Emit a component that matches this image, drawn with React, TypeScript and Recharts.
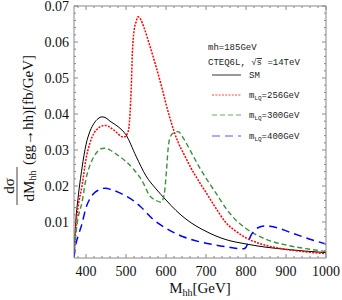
import React from 'react';
import { LineChart, Line, XAxis, YAxis } from 'recharts';

// ---- data (M_hh in GeV, dσ/dM in fb/GeV) ----
const smM = [370, 375, 380, 390, 400, 410, 420, 430, 440, 450, 460, 480, 500, 525, 550, 575, 600, 625, 650, 675, 700, 725, 750, 800, 850, 900, 950, 1000];
const smV = [0.0008, 0.011, 0.0165, 0.025, 0.0315, 0.0352, 0.0374, 0.0387, 0.0392, 0.0389, 0.038, 0.0365, 0.0342, 0.0283, 0.0228, 0.0192, 0.0161, 0.0132, 0.0108, 0.0089, 0.0074, 0.0061, 0.0051, 0.0039, 0.003, 0.0024, 0.0019, 0.0015];

const lq256M = [370, 375, 380, 390, 400, 410, 420, 430, 440, 450, 460, 470, 480, 490, 498, 503, 507, 510, 513, 516, 520, 525, 530, 537, 545, 560, 575, 590, 600, 610, 620, 630, 645, 660, 685, 700, 725, 750, 775, 800, 850, 900, 950, 1000];
const lq256V = [0.0006, 0.009, 0.014, 0.02, 0.0275, 0.032, 0.0347, 0.036, 0.0367, 0.0368, 0.0363, 0.0355, 0.0345, 0.0337, 0.0337, 0.0345, 0.036, 0.04, 0.047, 0.057, 0.063, 0.0655, 0.067, 0.0662, 0.064, 0.0588, 0.0532, 0.0472, 0.0428, 0.0388, 0.0352, 0.0322, 0.0288, 0.0255, 0.0208, 0.0182, 0.0138, 0.0098, 0.0074, 0.0056, 0.0035, 0.0024, 0.0017, 0.0012];

const lq300M = [370, 375, 380, 390, 400, 410, 420, 430, 440, 450, 460, 480, 500, 520, 540, 560, 575, 588, 593, 597, 601, 605, 610, 620, 630, 645, 660, 685, 700, 725, 750, 775, 800, 850, 900, 950, 1000];
const lq300V = [0.0005, 0.007, 0.011, 0.0155, 0.022, 0.0258, 0.0282, 0.0297, 0.0304, 0.0305, 0.03, 0.0285, 0.0268, 0.0245, 0.0215, 0.0172, 0.016, 0.0155, 0.0165, 0.0189, 0.024, 0.03, 0.0335, 0.0348, 0.0351, 0.033, 0.03, 0.0249, 0.0222, 0.018, 0.0138, 0.0105, 0.0082, 0.0052, 0.0036, 0.0026, 0.0018];

const lq400M = [370, 375, 380, 390, 400, 410, 420, 430, 440, 450, 460, 480, 500, 520, 536, 569, 601, 643, 684, 725, 758, 783, 795, 800, 805, 812, 820, 830, 845, 860, 884, 916, 958, 1000];
const lq400V = [0.0002, 0.004, 0.006, 0.0095, 0.014, 0.0165, 0.018, 0.0188, 0.0193, 0.0194, 0.0191, 0.0183, 0.0172, 0.0158, 0.0143, 0.0106, 0.0082, 0.0059, 0.0045, 0.0036, 0.003, 0.0026, 0.0026, 0.003, 0.0042, 0.0062, 0.0075, 0.0084, 0.0089, 0.0088, 0.0082, 0.0069, 0.0053, 0.0039];

// ---- ticks ----
const xTicks = [380, 400, 420, 440, 460, 480, 500, 520, 540, 560, 580, 600, 620, 640, 660, 680, 700, 720, 740, 760, 780, 800, 820, 840, 860, 880, 900, 920, 940, 960, 980, 1000];
const xMajor = [400, 500, 600, 700, 800, 900, 1000];
const yTicks = [0.002, 0.004, 0.006, 0.008, 0.01, 0.012, 0.014, 0.016, 0.018, 0.02, 0.022, 0.024, 0.026, 0.028, 0.03, 0.032, 0.034, 0.036, 0.038, 0.04, 0.042, 0.044, 0.046, 0.048, 0.05, 0.052, 0.054, 0.056, 0.058, 0.06, 0.062, 0.064, 0.066, 0.068, 0.07];
const yMajorLabels = ['0.01', '0.02', '0.03', '0.04', '0.05', '0.06', '0.07'];

const zip = (m: number[], v: number[]) => m.map((x, i) => ({ m: x, v: v[i] }));

const series = [
  { key: 'sm', data: zip(smM, smV), color: '#000000', width: 1, dash: undefined as string | undefined, legendColor: '#333', label: 'SM', mass: '' },
  { key: 'lq256', data: zip(lq256M, lq256V), color: '#ff0000', width: 1.5, dash: '2 1.3', legendColor: '#f44', label: '', mass: '256' },
  { key: 'lq300', data: zip(lq300M, lq300V), color: '#3f8f3f', width: 1.4, dash: '5 3', legendColor: '#6a6', label: '', mass: '300' },
  { key: 'lq400', data: zip(lq400M, lq400V), color: '#0000ff', width: 1.5, dash: '8 5', legendColor: '#55f', label: '', mass: '400' },
];

const SERIF = '"Liberation Serif", "Times New Roman", serif';
const MONO = '"Liberation Mono", "Courier New", monospace';
const FRAME = '#888';

const isMajorY = (v: number) => Math.abs(v * 100 - Math.round(v * 100)) < 1e-6;

const BottomTick = (p: any) => {
  const v = p.payload.value;
  const major = xMajor.includes(v);
  return (
    <g>
      <line x1={p.x} x2={p.x} y1={p.y} y2={p.y - (major ? 4 : 2)} stroke={FRAME} />
      {major && (
        <text x={p.x} y={p.y + 18} textAnchor="middle" fontFamily={SERIF} fontSize={14} fill="#111">{String(v)}</text>
      )}
    </g>
  );
};
const TopTick = (p: any) => {
  const major = xMajor.includes(p.payload.value);
  return <line x1={p.x} x2={p.x} y1={p.y} y2={p.y + (major ? 4 : 2)} stroke={FRAME} />;
};
const LeftTick = (p: any) => {
  const v = p.payload.value;
  const major = isMajorY(v);
  const idx = Math.round(v * 100) - 1;
  return (
    <g>
      <line x1={p.x} x2={p.x + (major ? 4 : 2)} y1={p.y} y2={p.y} stroke={FRAME} />
      {major && (
        <text x={p.x - 5} y={p.y + 5} textAnchor="end" fontFamily={SERIF} fontSize={14} fill="#111">{yMajorLabels[idx]}</text>
      )}
    </g>
  );
};
const RightTick = (p: any) => {
  const major = isMajorY(p.payload.value);
  return <line x1={p.x} x2={p.x - (major ? 4 : 2)} y1={p.y} y2={p.y} stroke={FRAME} />;
};

const XTitle = () => (
  <text x={200} y={293} textAnchor="middle" fontFamily={SERIF} fontSize={15} fill="#111">
    M<tspan fontSize={10} dy={3}>hh</tspan><tspan dy={-3}>[GeV]</tspan>
  </text>
);

const YTitle = () => (
  <g fontFamily={SERIF} fill="#111">
    <line x1={17} x2={17} y1={167} y2={205} stroke="#111" strokeWidth={0.8} />
    <text x={9} y={186} transform="rotate(-90 9 186)" textAnchor="middle" dominantBaseline="central" fontSize={15}>dσ</text>
    <text x={29} y={186} transform="rotate(-90 29 186)" textAnchor="middle" dominantBaseline="central" fontSize={15}>
      dM<tspan fontSize={10} dy={3}>hh</tspan>
    </text>
    <text x={28} y={110} transform="rotate(-90 28 110)" textAnchor="middle" dominantBaseline="central" fontSize={15}>(gg→hh)[fb/GeV]</text>
  </g>
);

const LegendOverlay = () => (
  <svg width={342} height={300} style={{ position: 'absolute', left: 0, top: 0, pointerEvents: 'none' }}>
    <g fontFamily={MONO} fontSize={9} fill="#222">
      <text x={208} y={50}>mh=185GeV</text>
      <text x={208} y={65}>CTEQ6L, √<tspan style={{ textDecoration: 'overline' }}>s</tspan> =14TeV</text>
      {series.map((s, i) => {
        const y = [75, 95, 115, 136][i];
        return (
          <g key={s.key}>
            <line x1={212} x2={241} y1={y} y2={y} stroke={s.legendColor} strokeWidth={1} strokeDasharray={s.dash} />
            {s.label ? (
              <text x={249} y={y + 3}>{s.label}</text>
            ) : (
              <text x={249} y={y + 3}>
                m<tspan fontSize={6} dy={2}>LQ</tspan><tspan dy={-2}>={s.mass}GeV</tspan>
              </text>
            )}
          </g>
        );
      })}
    </g>
  </svg>
);

export default function App() {
  return (
    <div style={{ position: 'relative', width: 342, height: 300, background: '#fff' }}>
      <style>{'body{margin:0;background:#fff}'}</style>
      <LineChart width={342} height={300} margin={{ top: 5, right: 15, bottom: 0, left: 0 }}>
        <XAxis xAxisId="b" type="number" dataKey="m" domain={[370, 1000]} ticks={xTicks} interval={0}
          tick={<BottomTick />} tickLine={false} tickSize={0} tickMargin={0} height={42}
          axisLine={{ stroke: FRAME }} allowDataOverflow label={<XTitle />} />
        <XAxis xAxisId="t" orientation="top" type="number" dataKey="m" domain={[370, 1000]} ticks={xTicks} interval={0}
          tick={<TopTick />} tickLine={false} tickSize={0} tickMargin={0} height={1}
          axisLine={{ stroke: FRAME }} allowDataOverflow />
        <YAxis yAxisId="l" type="number" domain={[0, 0.07]} ticks={yTicks} interval={0}
          tick={<LeftTick />} tickLine={false} tickSize={0} tickMargin={0} width={74}
          axisLine={{ stroke: FRAME }} allowDataOverflow label={<YTitle />} />
        <YAxis yAxisId="r" orientation="right" type="number" domain={[0, 0.07]} ticks={yTicks} interval={0}
          tick={<RightTick />} tickLine={false} tickSize={0} tickMargin={0} width={1}
          axisLine={{ stroke: FRAME }} allowDataOverflow />
        {series.map((s) => (
          <Line key={s.key} xAxisId="b" yAxisId="l" data={s.data} dataKey="v" type="monotone"
            stroke={s.color} strokeWidth={s.width} strokeDasharray={s.dash} dot={false}
            isAnimationActive={false} />
        ))}
      </LineChart>
      <LegendOverlay />
    </div>
  );
}
